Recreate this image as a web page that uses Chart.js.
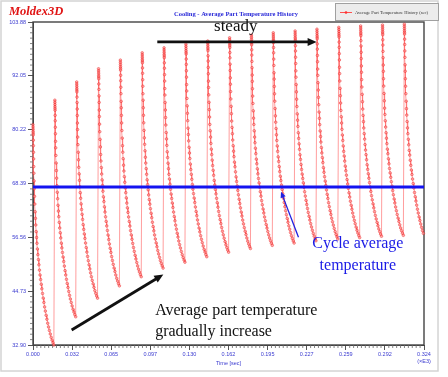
<!DOCTYPE html>
<html lang="en">
<head>
<meta charset="UTF-8">
<title>Cooling - Average Part Temperature History</title>
<script src="https://cdn.jsdelivr.net/npm/chart.js"></script>
<style>
    body { margin: 0; background: #ffffff; }
    #wrap { position: relative; width: 448px; height: 377px; }
</style>
</head>
<body>
<div id="wrap">
    <canvas id="tempChart" width="448" height="377"></canvas>
</div>
<script>
// axis ticks (x in sec x1E3)
const xTicks = [0, 0.0324, 0.0648, 0.0972, 0.1296, 0.162, 0.1944, 0.2268, 0.2592, 0.2916, 0.324];
const xTickLabels = ['0.000', '0.032', '0.065', '0.097', '0.130', '0.162', '0.195', '0.227', '0.259', '0.292', '0.324'];
const yTicks = [32.90, 44.73, 56.56, 68.39, 80.22, 92.05, 103.88];
const yTickLabels = ['32.90', '44.73', '56.56', '68.39', '80.22', '92.05', '103.88'];

// one cycle per peak: start time, peak temperature, lowest temperature before the next shot
const cycleTime = 0.0181;
const peakTimes = [0, 0.0181, 0.0362, 0.0543, 0.0724, 0.0905, 0.1086, 0.1267, 0.1448, 0.1629,
                   0.1810, 0.1991, 0.2172, 0.2353, 0.2534, 0.2715, 0.2896, 0.3077];
const peakTemps = [81.3, 86.7, 90.7, 93.6, 95.5, 97.1, 98.2, 99.0, 99.7, 100.4,
                   101.0, 101.5, 101.9, 102.3, 102.7, 103.0, 103.2, 103.4];
const lowTemps  = [32.9, 39.1, 43.2, 45.9, 47.9, 49.8, 51.1, 52.3, 53.3, 54.1,
                   54.8, 55.3, 55.8, 56.2, 56.5, 56.8, 57.0, 56.4];

// shape of one cooling curve as read off the second cycle
// (fraction of cycle time, fraction of peak-to-low drop remaining)
const shapeT = [0, 0.002, 0.004, 0.006, 0.008, 0.010, 0.014, 0.018, 0.023, 0.028, 0.034, 0.040,
                0.048, 0.058, 0.070, 0.083, 0.097, 0.112, 0.128, 0.145, 0.163, 0.182, 0.202, 0.224,
                0.247, 0.271, 0.296, 0.322, 0.349, 0.377, 0.406, 0.436, 0.467, 0.499, 0.532, 0.566,
                0.601, 0.637, 0.674, 0.712, 0.751, 0.791, 0.832, 0.873, 0.914, 0.955];
const shapeV = [1, 0.99, 0.98, 0.97, 0.962, 0.954, 0.93, 0.905, 0.875, 0.845, 0.81, 0.78,
                0.745, 0.71, 0.675, 0.64, 0.605, 0.575, 0.545, 0.515, 0.488, 0.462, 0.436, 0.41,
                0.388, 0.364, 0.34, 0.318, 0.297, 0.276, 0.255, 0.234, 0.213, 0.193, 0.173, 0.154,
                0.135, 0.117, 0.099, 0.082, 0.066, 0.050, 0.035, 0.022, 0.010, 0];

const avgTemp = 67.6;
const xMax = 0.324;

// build the red series from the cycle tables
const history = [];
peakTimes.forEach((t0, i) => {
    for (let k = 0; k < shapeT.length; k++) {
        const t = t0 + shapeT[k] * cycleTime;
        if (t > xMax) break;
        history.push({ x: t, y: lowTemps[i] + (peakTemps[i] - lowTemps[i]) * shapeV[k] });
    }
});

const tickBlue = '#3a3ad0';
const labelFont = 'Liberation Serif';

function arrow(ctx, x1, y1, x2, y2, color, width, head) {
    const a = Math.atan2(y2 - y1, x2 - x1);
    ctx.save();
    ctx.strokeStyle = color;
    ctx.fillStyle = color;
    ctx.lineWidth = width;
    ctx.beginPath();
    ctx.moveTo(x1, y1);
    ctx.lineTo(x2 - Math.cos(a) * head * 0.8, y2 - Math.sin(a) * head * 0.8);
    ctx.stroke();
    ctx.beginPath();
    ctx.moveTo(x2, y2);
    ctx.lineTo(x2 - head * Math.cos(a) + head * 0.45 * Math.sin(a), y2 - head * Math.sin(a) - head * 0.45 * Math.cos(a));
    ctx.lineTo(x2 - head * Math.cos(a) - head * 0.45 * Math.sin(a), y2 - head * Math.sin(a) + head * 0.45 * Math.cos(a));
    ctx.closePath();
    ctx.fill();
    ctx.restore();
}

const decorations = {
    id: 'decorations',
    beforeDraw(chart) {
        const ctx = chart.ctx;
        ctx.save();
        ctx.strokeStyle = '#d4d4d4';
        ctx.lineWidth = 1.5;
        ctx.strokeRect(1, 1, 437, 370);
        ctx.restore();
    },
    beforeDatasetsDraw(chart) {
        const ctx = chart.ctx;
        const xs = chart.scales.x, ys = chart.scales.y;
        const a = chart.chartArea;
        ctx.save();
        // plot frame
        ctx.strokeStyle = '#444';
        ctx.lineWidth = 1.4;
        ctx.strokeRect(a.left, a.top, a.right - a.left, a.bottom - a.top);

        // minor ticks
        ctx.lineWidth = 0.8;
        ctx.strokeStyle = '#666';
        ctx.beginPath();
        for (let i = 0; i < yTicks.length - 1; i++) {
            const step = (yTicks[i + 1] - yTicks[i]) / 10;
            for (let j = 1; j < 10; j++) {
                const py = ys.getPixelForValue(yTicks[i] + step * j);
                ctx.moveTo(a.left - 3, py);
                ctx.lineTo(a.left, py);
            }
        }
        for (let i = 0; i < xTicks.length - 1; i++) {
            const step = (xTicks[i + 1] - xTicks[i]) / 10;
            for (let j = 1; j < 10; j++) {
                const px = xs.getPixelForValue(xTicks[i] + step * j);
                ctx.moveTo(px, a.bottom);
                ctx.lineTo(px, a.bottom + 3);
            }
        }
        ctx.stroke();
        ctx.restore();
    },
    afterDraw(chart) {
        const ctx = chart.ctx;
        const xs = chart.scales.x, ys = chart.scales.y;
        const a = chart.chartArea;
        ctx.save();

        // logo, title, legend, axis title
        ctx.fillStyle = '#e01515';
        ctx.font = 'italic bold 12.5px ' + labelFont;
        ctx.textBaseline = 'alphabetic';
        ctx.textAlign = 'left';
        ctx.fillText('Moldex3D', 9, 15);

        ctx.fillStyle = '#2b2bd8';
        ctx.font = 'bold 6.5px ' + labelFont;
        ctx.textAlign = 'center';
        ctx.fillText('Cooling - Average Part Temperature History', 236, 16);

        ctx.fillStyle = '#ececec';
        ctx.fillRect(335, 3, 104, 18);
        ctx.strokeStyle = '#a0a0a0';
        ctx.lineWidth = 1;
        ctx.strokeRect(335.5, 3.5, 103, 17);
        ctx.strokeStyle = '#ff5050';
        ctx.lineWidth = 1;
        ctx.beginPath();
        ctx.moveTo(340, 12.5);
        ctx.lineTo(352, 12.5);
        ctx.stroke();
        ctx.fillStyle = '#ff3030';
        ctx.beginPath();
        ctx.arc(346, 12.5, 1.3, 0, Math.PI * 2);
        ctx.fill();
        ctx.fillStyle = '#333';
        ctx.font = '4.6px ' + labelFont;
        ctx.textAlign = 'left';
        ctx.fillText('Average Part Temperature History (sec)', 355, 14);

        ctx.fillStyle = tickBlue;
        ctx.font = '5.5px Liberation Sans';
        ctx.textAlign = 'center';
        ctx.fillText('Time [sec]', (a.left + a.right) / 2, 365);
        ctx.fillText('(\u00d7E3)', a.right, 363);

        // annotations, placed in data coordinates
        const X = v => xs.getPixelForValue(v);
        const Y = v => ys.getPixelForValue(v);
        arrow(ctx, X(0.1030), Y(99.5), X(0.2350), Y(99.5), '#111', 2.8, 9);
        arrow(ctx, X(0.0320), Y(36.2), X(0.1080), Y(48.4), '#111', 2.8, 9);
        arrow(ctx, X(0.2200), Y(56.6), X(0.2055), Y(66.6), '#2020e0', 1.3, 6);

        ctx.font = '17px ' + labelFont;
        ctx.fillStyle = '#111';
        ctx.textAlign = 'center';
        ctx.fillText('steady', X(0.168), Y(101.9));
        ctx.textAlign = 'left';
        ctx.font = '16px ' + labelFont;
        ctx.fillText('Average part temperature', X(0.1012), Y(39.6));
        ctx.fillText('gradually increase', X(0.1012), Y(34.8));
        ctx.fillStyle = '#1a1ae6';
        ctx.fillText('Cycle average', X(0.2315), Y(54.2));
        ctx.fillText('temperature', X(0.2375), Y(49.4));
        ctx.restore();
    }
};

const ctx = document.getElementById('tempChart').getContext('2d');
const chart = new Chart(ctx, {
    type: 'line',
    data: {
        datasets: [{
            label: 'Cycle average temperature',
            data: [{ x: 0, y: avgTemp }, { x: xMax, y: avgTemp }],
            borderColor: '#1414f0',
            borderWidth: 3,
            pointRadius: 0,
            order: 0
        }, {
            label: 'Average Part Temperature History (sec)',
            data: history,
            borderColor: 'rgba(255, 110, 110, 0.75)',
            borderWidth: 0.9,
            pointRadius: 1.3,
            pointBorderWidth: 0.6,
            pointBackgroundColor: 'rgba(255, 150, 150, 0.6)',
            pointBorderColor: 'rgba(235, 20, 20, 0.75)',
            tension: 0,
            clip: 4,
            order: 1
        }]
    },
    options: {
        responsive: false,
        animation: false,
        layout: { padding: { left: 0, right: 24, top: 22, bottom: 0 } },
        plugins: {
            legend: { display: false },
            title: { display: false },
            tooltip: { enabled: false }
        },
        scales: {
            x: {
                type: 'linear',
                min: 0,
                max: xMax,
                afterBuildTicks: scale => { scale.ticks = xTicks.map(v => ({ value: v })); },
                afterFit: scale => { scale.height = 32; },
                grid: { drawOnChartArea: false, tickLength: 5, color: '#555' },
                border: { color: '#444' },
                ticks: {
                    autoSkip: false,
                    maxRotation: 0,
                    padding: 1,
                    color: tickBlue,
                    font: { size: 5.5, family: 'Liberation Sans' },
                    callback: (v, i) => xTickLabels[i]
                }
            },
            y: {
                min: yTicks[0],
                max: yTicks[yTicks.length - 1],
                afterBuildTicks: scale => { scale.ticks = yTicks.map(v => ({ value: v })); },
                afterFit: scale => { scale.width = 33; },
                grid: { drawOnChartArea: false, tickLength: 5, color: '#555' },
                border: { color: '#444' },
                ticks: {
                    autoSkip: false,
                    padding: 2,
                    color: tickBlue,
                    font: { size: 5.5, family: 'Liberation Sans' },
                    callback: (v, i) => yTickLabels[i]
                }
            }
        }
    },
    plugins: [decorations]
});
</script>
</body>
</html>
